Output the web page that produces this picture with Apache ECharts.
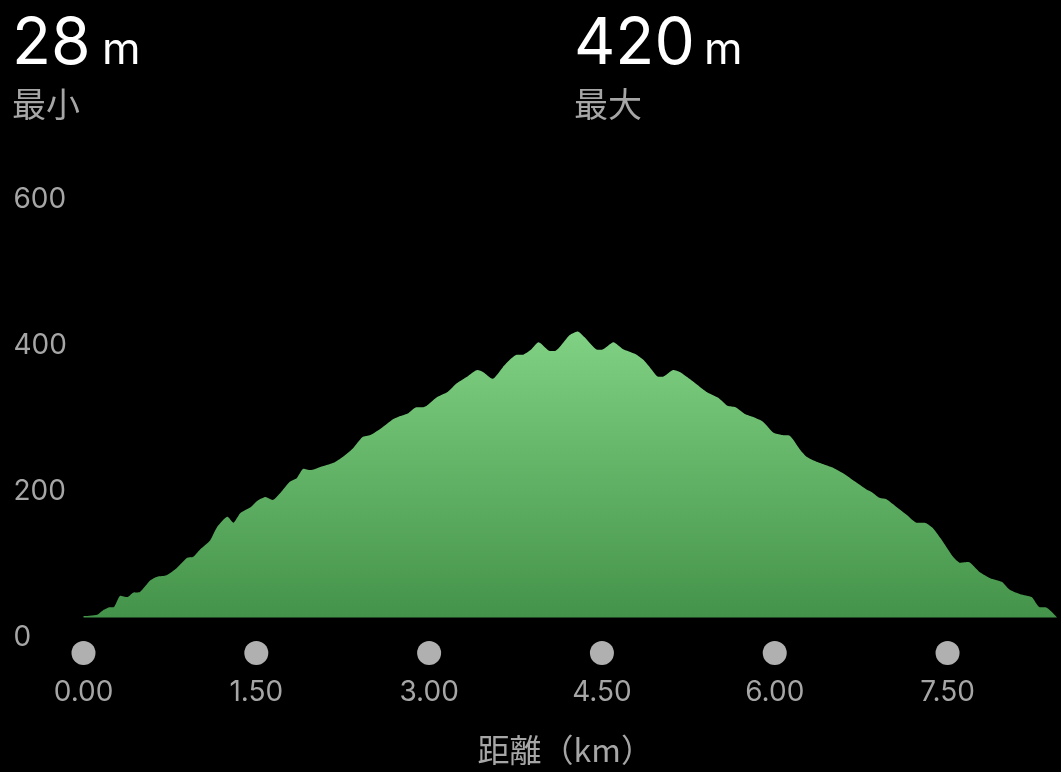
<!DOCTYPE html>
<html>
<head>
<meta charset="utf-8">
<style>
  html, body { margin: 0; padding: 0; background: #000; }
  #chart { width: 1061px; height: 772px; }
</style>
<script src="https://cdn.jsdelivr.net/npm/echarts@6/dist/echarts.min.js"></script>
</head>
<body>
<div id="chart"></div>
<script>
// Distance along the route (km)
const distanceKm = [
  0.00,0.12,0.17,0.23,0.26,0.32,0.38,0.43,0.49,0.58,
  0.64,0.72,0.81,0.90,0.95,1.01,1.10,1.16,1.25,1.30,
  1.36,1.45,1.51,1.58,1.64,1.71,1.79,1.85,1.91,1.97,
  2.05,2.17,2.25,2.34,2.42,2.49,2.59,2.68,2.75,2.82,
  2.89,2.95,3.07,3.16,3.24,3.33,3.42,3.47,3.55,3.64,
  3.70,3.76,3.81,3.89,3.95,4.05,4.09,4.22,4.29,4.35,
  4.46,4.50,4.60,4.68,4.79,4.86,4.92,4.99,5.03,5.12,
  5.18,5.26,5.35,5.42,5.51,5.59,5.66,5.74,5.81,5.90,
  5.99,6.06,6.13,6.22,6.28,6.37,6.44,6.51,6.59,6.70,
  6.80,6.84,6.91,6.97,7.06,7.15,7.23,7.30,7.37,7.46,
  7.55,7.61,7.68,7.78,7.87,7.97,8.04,8.13,8.23,8.30,
  8.35,8.45
];
// Elevation (m)
const elevationM = [
  30,32,38,42,42,58,56,62,63,79,
  84,86,96,110,111,121,134,152,166,158,
  171,179,188,193,189,199,214,219,232,230,
  234,240,248,260,275,278,288,299,304,308,
  316,316,330,337,349,358,367,364,355,371,
  381,388,388,396,405,393,393,415,420,412,
  395,395,405,396,389,381,370,358,358,367,
  364,355,344,336,329,318,316,307,303,296,
  281,278,277,258,248,241,237,233,226,214,
  203,200,192,190,179,168,158,158,151,132,
  111,103,104,90,82,77,66,60,56,42,
  42,28
];
// Axis ticks
const xTicks = [0, 1.5, 3, 4.5, 6, 7.5];
const yTicks = [0, 200, 400, 600];
// Texts
const minLabel = '最小';
const maxLabel = '最大';
const unitLabel = 'm';
const xAxisName = '距離（km）';

const minElev = Math.min(...elevationM);
const maxElev = Math.max(...elevationM);
const seriesData = distanceKm.map((d, i) => [d, elevationM[i]]);

const LATIN = 'Inter, "Noto Sans CJK JP", sans-serif';
const CJK = '"Noto Sans CJK JP", sans-serif';
const GRAY = '#a6a6a6';

const chart = echarts.init(document.getElementById('chart'));
chart.setOption({
  backgroundColor: '#000',
  animation: false,
  grid: { left: 83.5, right: 4, top: 200, bottom: 134, containLabel: false, outerBoundsMode: 'none' },
  xAxis: {
    type: 'value',
    min: xTicks[0],
    max: distanceKm[distanceKm.length - 1],
    interval: xTicks[1] - xTicks[0],
    axisLine: { show: false },
    axisTick: { show: false },
    splitLine: { show: false },
    axisLabel: {
      showMaxLabel: false,
      margin: 3,
      formatter: v => '{dot| }\n{val|' + v.toFixed(2) + '}',
      rich: {
        dot: { width: 24, height: 24, borderRadius: 12, backgroundColor: '#b0b0b0', lineHeight: 24 },
        val: { fontSize: 28, fontFamily: LATIN, color: GRAY, lineHeight: 55 }
      }
    },
    name: xAxisName,
    nameLocation: 'middle',
    nameGap: 96,
    nameTextStyle: { fontSize: 32, fontFamily: CJK, color: GRAY, padding: [0, 10, 0, 0] }
  },
  yAxis: {
    type: 'value',
    min: yTicks[0],
    max: yTicks[yTicks.length - 1],
    interval: yTicks[1] - yTicks[0],
    axisLine: { show: false },
    axisTick: { show: false },
    splitLine: { show: false },
    axisLabel: {
      align: 'left',
      margin: 70,
      fontSize: 28,
      fontFamily: LATIN,
      color: GRAY,
      padding: [4, 0, 0, 0]
    }
  },
  graphic: [
    { type: 'text', x: 12, y: 45, style: { text: String(minElev), font: '64px ' + LATIN, fill: '#fff', verticalAlign: 'middle' } },
    { type: 'text', x: 102, y: 51, style: { text: unitLabel, font: '44px ' + LATIN, fill: '#fff', verticalAlign: 'middle' } },
    { type: 'text', x: 12, y: 104, style: { text: minLabel, font: '34px ' + CJK, fill: GRAY, verticalAlign: 'middle' } },
    { type: 'text', x: 574, y: 45, style: { text: String(maxElev), font: '64px ' + LATIN, fill: '#fff', verticalAlign: 'middle' } },
    { type: 'text', x: 704, y: 51, style: { text: unitLabel, font: '44px ' + LATIN, fill: '#fff', verticalAlign: 'middle' } },
    { type: 'text', x: 574, y: 104, style: { text: maxLabel, font: '34px ' + CJK, fill: GRAY, verticalAlign: 'middle' } }
  ],
  series: [{
    type: 'line',
    data: seriesData,
    showSymbol: false,
    smooth: 0.2,
    lineStyle: { width: 0 },
    areaStyle: {
      origin: minElev,
      opacity: 1,
      color: new echarts.graphic.LinearGradient(0, 0, 0, 1, [
        { offset: 0, color: '#80d183' },
        { offset: 1, color: '#44934a' }
      ])
    }
  }]
});
</script>
</body>
</html>
